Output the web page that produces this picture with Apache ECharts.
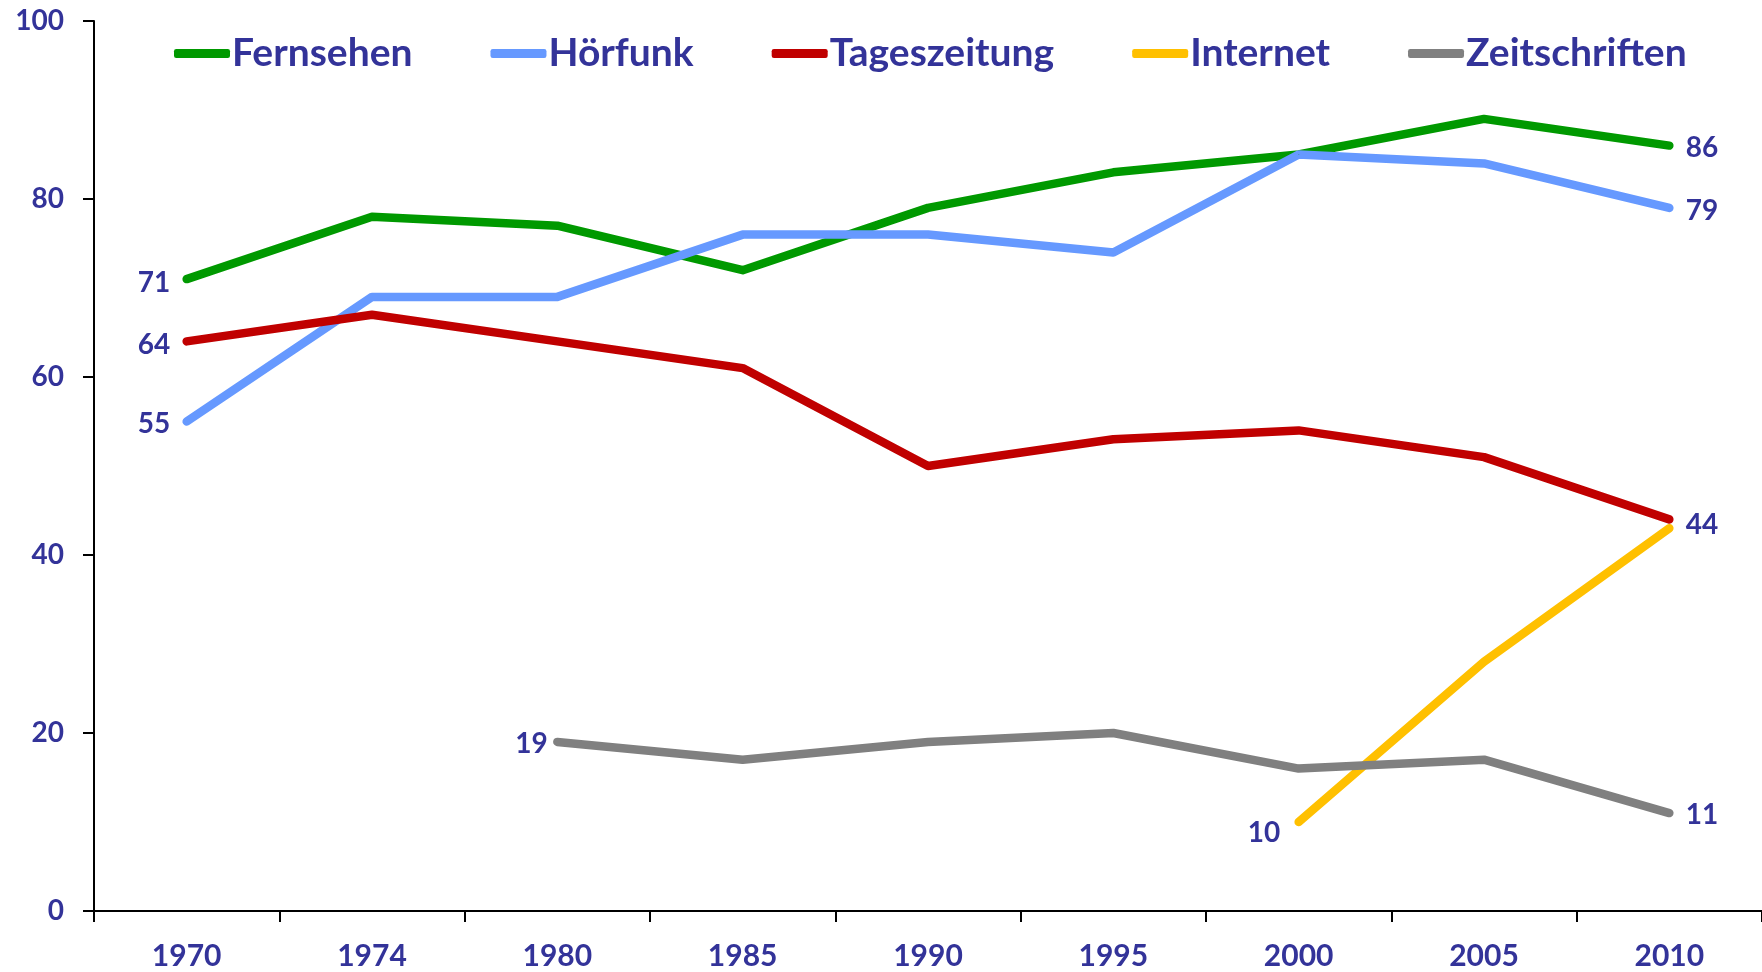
<!DOCTYPE html>
<html>
<head>
<meta charset="utf-8">
<script src="https://cdn.jsdelivr.net/npm/echarts@6/dist/echarts.min.js"></script>
<style>
  html, body { margin: 0; padding: 0; background: #fff; }
  #main { width: 1762px; height: 972px; }
</style>
</head>
<body>
<div id="main"></div>
<script>
// Daten
var years = ['1970', '1974', '1980', '1985', '1990', '1995', '2000', '2005', '2010'];
var fernsehen = [71, 78, 77, 72, 79, 83, 85, 89, 86];
var hoerfunk = [55, 69, 69, 76, 76, 74, 85, 84, 79];
var tageszeitung = [64, 67, 64, 61, 50, 53, 54, 51, 44];
var internet = [null, null, null, null, null, null, 10, 28, 43];
var zeitschriften = [null, null, 19, 17, 19, 20, 16, 17, 11];
var yTicks = [0, 20, 40, 60, 80, 100];

var textColor = '#333399';
var fontFam = 'Lato';

// Beschriftung nur an ausgewaehlten Punkten
function withLabels(values, labels) {
  return values.map(function (v, i) {
    var l = labels[i];
    if (!l || v === null) return v;
    return {
      value: v,
      label: {
        show: true,
        position: l.pos,
        distance: l.dist,
        offset: l.offset || [0, 0],
        color: textColor,
        fontFamily: fontFam,
        fontWeight: 'bold',
        fontSize: 28
      }
    };
  });
}

function mkSeries(name, color, values, labels) {
  return {
    name: name,
    type: 'line',
    data: withLabels(values, labels),
    showSymbol: true,
    symbol: 'circle',
    symbolSize: 1,
    connectNulls: false,
    color: color,
    itemStyle: { color: color },
    lineStyle: { width: 8.5, color: color, cap: 'round', join: 'round' },
    emphasis: { disabled: true },
    animation: false,
    z: 2
  };
}

var L = function (pos, dist, offset) { return { pos: pos, dist: dist, offset: offset }; };

var myChart = echarts.init(document.getElementById('main'));
var option = {
  backgroundColor: '#fff',
  animation: false,
  grid: { left: 94, right: 0, top: 21, bottom: 61, containLabel: false },
  legend: {
    left: 169,
    top: 29,
    icon: 'roundRect',
    itemWidth: 56,
    itemHeight: 9,
    itemGap: 78,
    textStyle: { color: textColor, fontFamily: fontFam, fontSize: 39, fontWeight: 'bold', padding: [0, 0, 0, -3] },
    data: ['Fernsehen', 'Hörfunk', 'Tageszeitung', 'Internet', 'Zeitschriften']
  },
  xAxis: {
    type: 'category',
    data: years,
    boundaryGap: true,
    axisLine: { lineStyle: { color: '#000', width: 2 } },
    axisTick: { show: true, alignWithLabel: false, length: 11, lineStyle: { color: '#000', width: 2 } },
    axisLabel: { color: textColor, fontFamily: fontFam, fontWeight: 'bold', fontSize: 30, margin: 30 },
    splitLine: { show: false }
  },
  yAxis: {
    type: 'value',
    min: yTicks[0],
    max: yTicks[yTicks.length - 1],
    interval: 20,
    axisLine: { show: true, lineStyle: { color: '#000', width: 2 } },
    axisTick: { show: true, length: 11, lineStyle: { color: '#000', width: 2 } },
    axisLabel: { color: textColor, fontFamily: fontFam, fontWeight: 'bold', fontSize: 28, margin: 30 },
    splitLine: { show: false }
  },
  series: [
    mkSeries('Fernsehen', '#009900', fernsehen, { 0: L('left', 16, [0, 4]), 8: L('right', 16, [0, 2]) }),
    mkSeries('Hörfunk', '#6699FF', hoerfunk, { 0: L('left', 16, [0, 2]), 8: L('right', 16, [0, 3]) }),
    mkSeries('Tageszeitung', '#C00000', tageszeitung, { 0: L('left', 16, [0, 4]), 8: L('right', 16, [0, 6]) }),
    mkSeries('Internet', '#FFC000', internet, { 6: L('left', 18, [0, 11]) }),
    mkSeries('Zeitschriften', '#808080', zeitschriften, { 2: L('left', 9, [0, 2]), 8: L('right', 16, [0, 2]) })
  ]
};
myChart.setOption(option);
</script>
</body>
</html>
